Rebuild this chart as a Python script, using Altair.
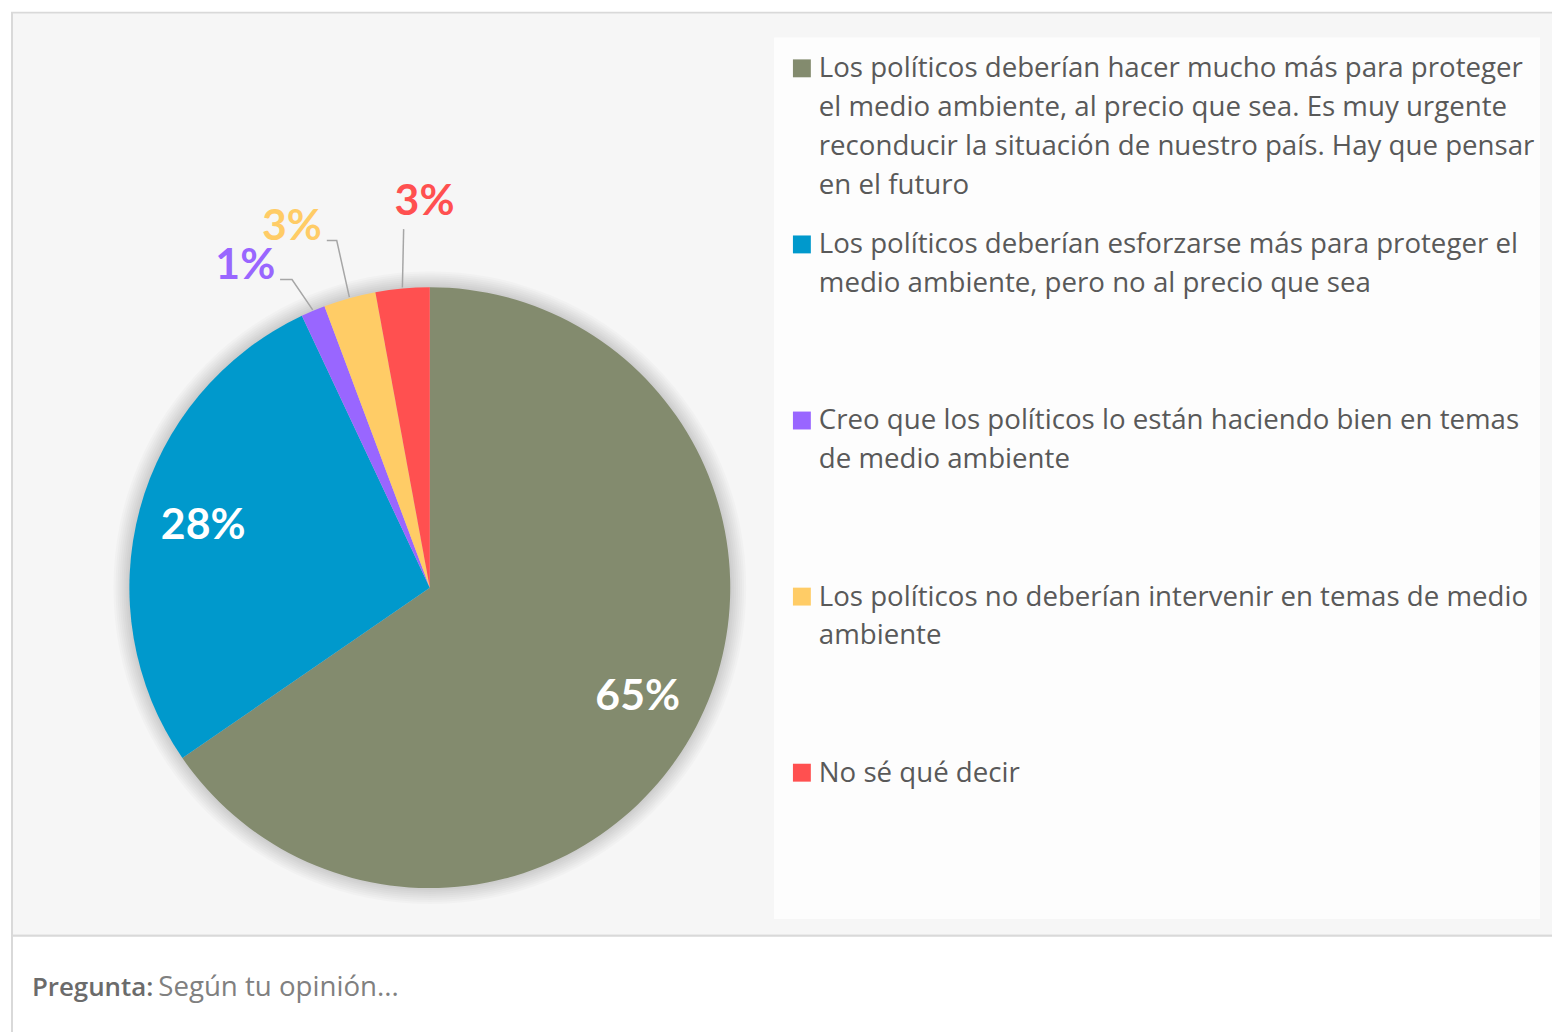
import math
import altair as alt
import pandas as pd

# ---------------- data ----------------
categories = [
    "Los políticos deberían hacer mucho más para proteger el medio ambiente, al precio que sea. Es muy urgente reconducir la situación de nuestro país. Hay que pensar en el futuro",
    "Los políticos deberían esforzarse más para proteger el medio ambiente, pero no al precio que sea",
    "Creo que los políticos lo están haciendo bien en temas de medio ambiente",
    "Los políticos no deberían intervenir en temas de medio ambiente",
    "No sé qué decir",
]
legend_labels = [
    "Los políticos deberían hacer mucho más para proteger\nel medio ambiente, al precio que sea. Es muy urgente\nreconducir la situación de nuestro país. Hay que pensar\nen el futuro",
    "Los políticos deberían esforzarse más para proteger el\nmedio ambiente, pero no al precio que sea",
    "Creo que los políticos lo están haciendo bien en temas\nde medio ambiente",
    "Los políticos no deberían intervenir en temas de medio\nambiente",
    "No sé qué decir",
]
values = [65.4, 27.6, 1.3, 2.8, 2.9]
pct_labels = ["65%", "28%", "1%", "3%", "3%"]
colors = ["#838B6E", "#0099CC", "#9966FF", "#FFCC66", "#FF5050"]
footer_label = ["Pregunta:"]
footer_text = ["Según tu opinión..."]

# ---------------- layout ----------------
W, H = 1552, 1024
CX, CY, R = 424, 580, 302
TOTAL = sum(values)
FONT = "Open Sans"
LABEL_FONT = "Lato"

df = pd.DataFrame({
    "cat": categories,
    "value": values,
    "label": pct_labels,
    "legend": legend_labels,
    "idx": list(range(len(values))),
})

color = alt.Color("cat:N", scale=alt.Scale(domain=categories, range=colors), legend=None)
theta_scale = alt.Scale(domain=[0, TOTAL])
xpix = alt.Scale(domain=[0, W], range=[0, W])
ypix = alt.Scale(domain=[0, H], range=[0, H])

one = pd.DataFrame({"k": [0], "a": footer_label, "b": footer_text})
deco = alt.Chart(one)

# background pieces
border = deco.mark_rect(fill="#f6f6f6", stroke="#d9d9d9", strokeWidth=2).encode(
    x=alt.value(4), x2=alt.value(1600), y=alt.value(2), y2=alt.value(930))
footer_bg = deco.mark_rect(fill="#ffffff", stroke="#d9d9d9", strokeWidth=2).encode(
    x=alt.value(4), x2=alt.value(1600), y=alt.value(930), y2=alt.value(1100))
legend_bg = deco.mark_rect(fill="#fdfdfd").encode(
    x=alt.value(770), x2=alt.value(1540), y=alt.value(27), y2=alt.value(913))

# pie shadow
shadows = [
    deco.mark_arc(innerRadius=0, outerRadius=R + 2 * k, color="#000000", opacity=0.018).encode(
        theta=alt.value(2 * math.pi), x=alt.value(CX), y=alt.value(CY))
    for k in range(1, 9)
]

base = alt.Chart(df)
pie = base.mark_arc(innerRadius=0, outerRadius=R).encode(
    theta=alt.Theta("value:Q", stack=True, scale=theta_scale),
    color=color,
    order=alt.Order("idx:Q"),
    x=alt.value(CX), y=alt.value(CY),
)

lab = base.transform_window(
    cum="sum(value)", sort=[alt.SortField("idx")], frame=[None, 0]
).transform_calculate(mid="datum.cum - datum.value / 2")

theta_mid = alt.Theta("mid:Q", stack=None, scale=theta_scale)

inside = lab.transform_filter("datum.idx < 2").mark_text(
    radius=236, font=LABEL_FONT, fontSize=43, fontWeight="bold", color="#ffffff",
    align="center", baseline="middle",
).encode(theta=theta_mid, text="label:N", x=alt.value(CX), y=alt.value(CY))

# outside labels: (idx, radius, dx, dy)
outer_specs = [(2, 372, -41, 20), (3, 388, -35, 11), (4, 388, 30, -1)]
outer_layers = []
for i, rr, ddx, ddy in outer_specs:
    outer_layers.append(
        lab.transform_filter(f"datum.idx == {i}").mark_text(
            radius=rr, dx=ddx, dy=ddy, font=LABEL_FONT, fontSize=43, fontWeight="bold",
            color=colors[i], align="center", baseline="middle",
        ).encode(theta=theta_mid, text="label:N", x=alt.value(CX), y=alt.value(CY))
    )

# leader lines computed from the values (same geometry as the theta scale)
cum = 0.0
mids = []
for v in values:
    mids.append((cum + v / 2) / TOTAL * 2 * math.pi)
    cum += v
leader_shape = {2: [(47, 13), (35, 13)], 3: [(45, 14), (35, 14)], 4: [(-21, 27)]}
rows = []
for i, rr, ddx, ddy in outer_specs:
    a = mids[i]
    lx = CX + rr * math.sin(a) + ddx
    ly = CY - rr * math.cos(a) + ddy
    pts = [(CX + (R + 1) * math.sin(a), CY - (R + 1) * math.cos(a))]
    pts += [(lx + ox, ly + oy) for ox, oy in leader_shape[i]]
    for j, (px, py) in enumerate(pts):
        rows.append({"seg": i, "o": j, "px": px, "py": py})
leaders = alt.Chart(pd.DataFrame(rows)).mark_line(color="#a6a6a6", strokeWidth=1.5).encode(
    x=alt.X("px:Q", scale=xpix, axis=None),
    y=alt.Y("py:Q", scale=ypix, axis=None),
    detail="seg:N",
    order="o:Q",
)

# legend
leg_y = alt.Y("idx:Q", scale=alt.Scale(domain=[0, 4], range=[58, 766]), axis=None)
leg_sq = base.mark_square(size=324, opacity=1).encode(
    x=alt.value(798), y=leg_y, color=color)
leg_tx = base.mark_text(
    align="left", baseline="alphabetic", lineBreak="\n", lineHeight=39,
    font=FONT, fontSize=27.8, color="#595959", dy=9,
).encode(x=alt.value(815), y=leg_y, text="legend:N")

# footer
f1 = deco.mark_text(align="left", baseline="alphabetic", font=FONT, fontSize=26,
                    fontWeight=600, color="#6b6b6b").encode(
    x=alt.value(24), y=alt.value(990), text="a:N")
f2 = deco.mark_text(align="left", baseline="alphabetic", font=FONT, fontSize=27.8,
                    color="#808080").encode(
    x=alt.value(151), y=alt.value(990), text="b:N")

chart = alt.layer(
    border, footer_bg, legend_bg, *shadows, pie, inside, *outer_layers,
    leaders, leg_sq, leg_tx, f1, f2,
).resolve_scale(x="independent", y="independent").properties(
    width=W, height=H, padding=0, autosize="none", background="#ffffff",
).configure_view(stroke=None)

chart.save("out.html", embed_options={"renderer": "svg", "actions": False})
